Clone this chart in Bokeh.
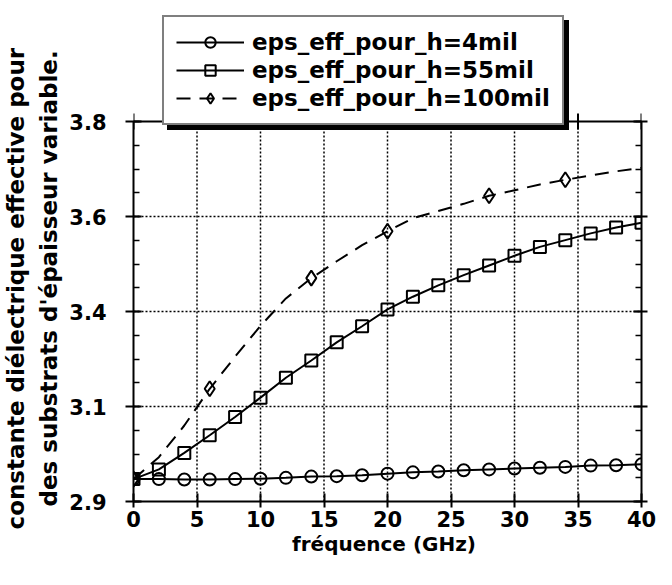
from bokeh.plotting import figure
from bokeh.models import FixedTicker, LinearAxis, Legend, LegendItem, Range1d, Title
from bokeh.embed import file_html
from bokeh.resources import INLINE

# ---- data ----
freq = [0, 2, 4, 6, 8, 10, 12, 14, 16, 18, 20, 22, 24, 26, 28, 30, 32, 34, 36, 38, 40]
eps_4mil = [2.953, 2.953, 2.952, 2.952, 2.953, 2.954, 2.956, 2.959, 2.960, 2.962, 2.966,
            2.969, 2.971, 2.974, 2.976, 2.978, 2.980, 2.982, 2.985, 2.986, 2.988]
eps_55mil = [2.953, 2.976, 3.015, 3.057, 3.100, 3.146, 3.193, 3.234, 3.277, 3.315, 3.355,
             3.385, 3.412, 3.436, 3.459, 3.482, 3.503, 3.519, 3.535, 3.549, 3.560]
eps_100mil = [2.953, 3.005, 3.080, 3.167, 3.243, 3.316, 3.381, 3.429, 3.469, 3.507, 3.540,
              3.571, 3.588, 3.605, 3.624, 3.637, 3.651, 3.662, 3.672, 3.682, 3.690]
marker_freq_100mil = [0, 6, 14, 20, 28, 34]
labels = ["eps_eff_pour_h=4mil", "eps_eff_pour_h=55mil", "eps_eff_pour_h=100mil"]
x_title = "fréquence  (GHz)"
y_title_lines = ["constante diélectrique effective pour", "des substrats d'épaisseur variable."]

x_min, x_max = 0, 40
y_min, y_max = 2.9, 3.8
x_ticks = [0, 5, 10, 15, 20, 25, 30, 35, 40]
y_ticks = [2.9, 3.125, 3.35, 3.575, 3.8]
y_tick_labels = ["2.9", "3.1", "3.4", "3.6", "3.8"]
y_minor_ticks = [2.9, 2.95625, 3.0125, 3.06875, 3.125, 3.18125, 3.2375, 3.29375, 3.35,
                 3.40625, 3.4625, 3.51875, 3.575, 3.63125, 3.6875, 3.74375, 3.8]

m_x = [f for f in freq if f in marker_freq_100mil]
m_y = [v for f, v in zip(freq, eps_100mil) if f in marker_freq_100mil]

FONT = "DejaVu Sans"

# layout (pixels)
W, H = 656, 575
B_LEFT, B_RIGHT, B_TOP, B_BOTTOM = 129, 15, 4, 74
frame_top = 8 + B_TOP
frame_bottom = 8 + H - B_BOTTOM
frame_h = frame_bottom - frame_top
box_top = 129                       # pixel row of the 3.8 line
axis_px = frame_bottom - box_top
px_per_unit = axis_px / (y_max - y_min)
y_top = y_min + frame_h / px_per_unit   # room above the box for the legend

p = figure(width=W, height=H, x_range=Range1d(x_min, x_max), y_range=Range1d(y_min, y_top),
           output_backend="svg", toolbar_location=None,
           min_border_left=B_LEFT, min_border_right=B_RIGHT,
           min_border_top=B_TOP, min_border_bottom=B_BOTTOM,
           x_axis_label=x_title)
p.background_fill_color = "white"
p.border_fill_color = "white"
p.outline_line_color = None
p.xgrid.visible = False
p.ygrid.visible = False

bottom = p.below[0]
left = p.left[0]
xt = FixedTicker(ticks=x_ticks, minor_ticks=[])
yt = FixedTicker(ticks=y_ticks, minor_ticks=y_minor_ticks)
bottom.ticker = xt
left.ticker = yt
left.bounds = (y_min, y_max)
left.major_label_overrides = dict(zip(y_ticks, y_tick_labels))

right = LinearAxis(ticker=yt, bounds=(y_min, y_max))
right.major_label_overrides = {t: "" for t in y_ticks}
p.add_layout(right, "right")

for ax in (bottom, left, right):
    ax.axis_line_width = 2
    ax.major_tick_line_width = 2
    ax.minor_tick_line_width = 1.5
    ax.major_tick_in = 8
    ax.major_tick_out = 8
    ax.minor_tick_in = 6
    ax.minor_tick_out = 0
    ax.major_label_text_font = FONT
    ax.major_label_text_font_style = "bold"
    ax.major_label_text_font_size = "21px"
    ax.major_label_text_color = "black"
    ax.axis_label_text_font = FONT
    ax.axis_label_text_font_style = "bold"
    ax.axis_label_text_font_size = "20px"
    ax.axis_label_text_color = "black"

right.major_tick_out = 6
right.major_label_standoff = 0
bottom.major_tick_out = 6
bottom.major_label_standoff = 3
bottom.axis_label_standoff = 2
left.major_label_standoff = 19

# two-line y title (read bottom to top), placed along the 2.9..3.8 box
title_offsets = [-5, -28]          # line 2 (next to axis), line 1 (outer)
title_standoffs = [10, 0]
for line, off, so in zip(reversed(y_title_lines), title_offsets, title_standoffs):
    t = Title(text=line, align="left", offset=off, text_font=FONT,
              text_font_style="bold", text_font_size="23px", text_color="black",
              standoff=so)
    p.add_layout(t, "left")

# dotted grid inside the 2.9..3.8 box
gx = x_ticks[1:-1]
gy = y_ticks[1:-1]
p.segment(x0=gx, y0=[y_min] * len(gx), x1=gx, y1=[y_max] * len(gx),
          line_color="black", line_width=1.5, line_dash="2 2")
p.segment(x0=[x_min] * len(gy), y0=gy, x1=[x_max] * len(gy), y1=gy,
          line_color="black", line_width=1.5, line_dash="2 2")

# top border of the box with crossing ticks
d = 8 / px_per_unit
p.segment(x0=[x_min], y0=[y_max], x1=[x_max], y1=[y_max], line_color="black", line_width=2)
p.segment(x0=x_ticks, y0=[y_max - d] * len(x_ticks), x1=x_ticks, y1=[y_max + d] * len(x_ticks),
          line_color="black", line_width=2)

r4l = p.line(freq, eps_4mil, line_color="black", line_width=2)
r4m = p.scatter(freq, eps_4mil, marker="circle", size=12, line_color="black", line_width=2,
                fill_color=None)
r55l = p.line(freq, eps_55mil, line_color="black", line_width=2)
r55m = p.scatter(freq, eps_55mil, marker="square", size=12, line_color="black", line_width=2,
                 fill_color=None)
r100l = p.line(freq, eps_100mil, line_color="black", line_width=2, line_dash="14 9")
r100m = p.scatter(m_x, m_y, marker="diamond", size=15, line_color="black",
                  line_width=2, fill_color=None)

items = [
    (labels[0], [r4l, r4m]),
    (labels[1], [r55l, r55m]),
    (labels[2], [r100l, r100m]),
]

common = dict(padding=12, spacing=2, glyph_width=68, glyph_height=26, label_height=26,
              label_standoff=8, label_width=298, label_text_font=FONT,
              label_text_font_style="bold", label_text_font_size="23px",
              border_line_width=2, border_line_color="black", margin=0)

legend_bottom_px = box_top + 4
vy = frame_bottom - legend_bottom_px
vx = 166 - (8 + B_LEFT)

shadow = Legend(items=[LegendItem(label="", renderers=r) for _, r in items],
                location=(vx + 5, vy - 5), background_fill_color="black",
                background_fill_alpha=1.0, label_text_color="black", **common)
legend = Legend(items=[LegendItem(label=l, renderers=r) for l, r in items],
                location=(vx, vy), background_fill_color="white", background_fill_alpha=1.0,
                label_text_color="black", **common)
p.add_layout(shadow, "center")
p.add_layout(legend, "center")

open("out.html", "w").write(file_html(p, INLINE))
